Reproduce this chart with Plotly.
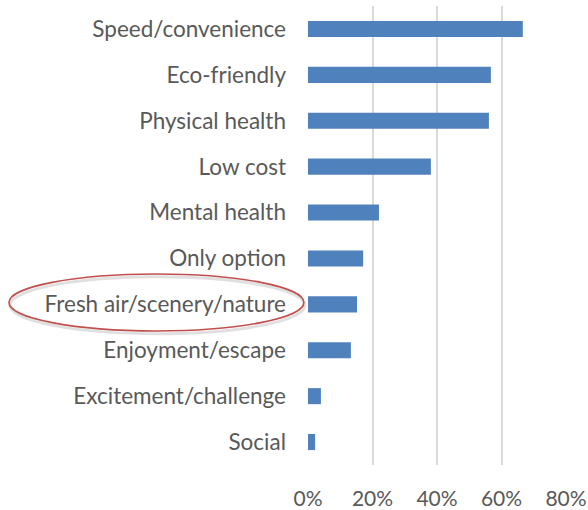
import plotly.graph_objects as go

categories = ["Speed/convenience", "Eco-friendly", "Physical health", "Low cost",
              "Mental health", "Only option", "Fresh air/scenery/nature",
              "Enjoyment/escape", "Excitement/challenge", "Social"]
shares = [0.666, 0.567, 0.561, 0.381, 0.220, 0.171, 0.152, 0.133, 0.040, 0.022]
x_ticks = [0, 0.2, 0.4, 0.6, 0.8]
x_tick_labels = ["0%", "20%", "40%", "60%", "80%"]
highlight = "Fresh air/scenery/nature"

FONT = "Lato"
GRAY = "#595959"

fig = go.Figure(go.Bar(
    x=shares, y=categories, orientation="h",
    marker=dict(color="#4F81BD", line=dict(width=0)),
    hoverinfo="skip",
))

hi = categories.index(highlight)
# soft shadow + red ellipse around the highlighted label
fig.add_shape(type="circle", xref="paper", yref="y",
              x0=-1.155, x1=-0.012, y0=hi - 0.66 + 0.06, y1=hi + 0.58 + 0.06,
              line=dict(color="rgba(0,0,0,0.12)", width=3), layer="above")
fig.add_shape(type="circle", xref="paper", yref="y",
              x0=-1.159, x1=-0.016, y0=hi - 0.66, y1=hi + 0.58,
              line=dict(color="#C0504D", width=1.6), layer="above")

fig.update_layout(
    width=588, height=510,
    margin=dict(l=308, r=22, t=6, b=45, autoexpand=False),
    paper_bgcolor="white", plot_bgcolor="white",
    bargap=0.65,
    showlegend=False,
    font=dict(family=FONT, size=21, color=GRAY),
    xaxis=dict(range=[0, 0.8], tickvals=x_ticks, ticktext=x_tick_labels,
               showgrid=True, gridcolor="#D9D9D9", gridwidth=2,
               zeroline=False, showline=False, ticks="",
               ticklabelstandoff=19, tickfont=dict(size=21, color=GRAY, family=FONT)),
    yaxis=dict(categoryorder="array", categoryarray=categories, autorange="reversed",
               showgrid=False, zeroline=False, showline=False, ticks="",
               ticklabelstandoff=21, tickfont=dict(size=22.5, color=GRAY, family=FONT)),
)

fig.write_html("out.html", config={"displayModeBar": False})

# remove the browser's default body margin so the figure sits at the page origin
with open("out.html", encoding="utf-8") as f:
    html = f.read()
html = html.replace("<body>", '<body style="margin:0;overflow:hidden">', 1)
with open("out.html", "w", encoding="utf-8") as f:
    f.write(html)
